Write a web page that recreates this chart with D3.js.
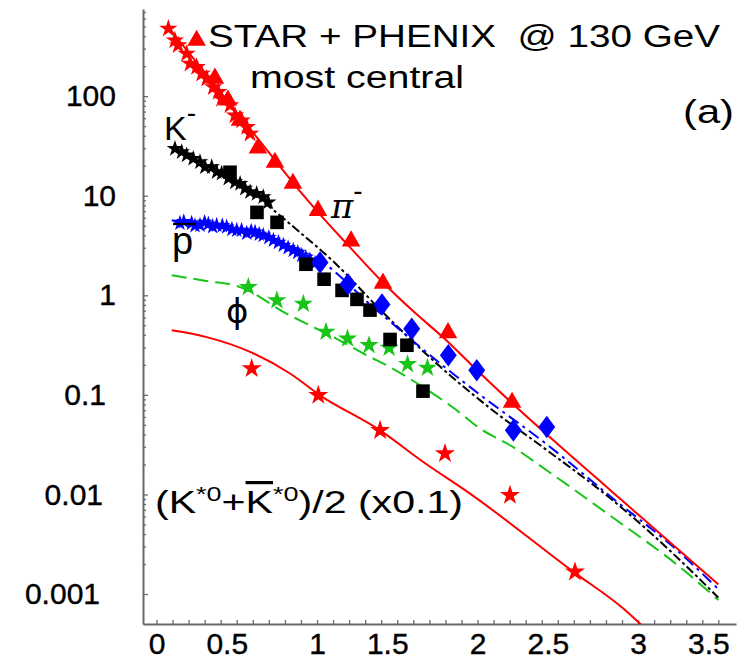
<!DOCTYPE html>
<html>
<head>
<meta charset="utf-8">
<script src="https://cdn.jsdelivr.net/npm/d3@7"></script>
<style>
  html, body { margin: 0; padding: 0; background: #fff; }
  svg { display: block; font-family: "Liberation Sans", Arial, Helvetica, sans-serif; }
</style>
</head>
<body>
<svg id="chart" width="738" height="659"></svg>
<script>
// ---- Measured spectra (pT in GeV/c, yield) ----
// pi- : STAR (stars) and PHENIX (triangles)
const piStarPt = [0.074, 0.115, 0.135, 0.188, 0.209, 0.25, 0.282, 0.313, 0.354, 0.385, 0.406, 0.458, 0.489, 0.531, 0.562, 0.583];
const piStarY  = [476, 363, 324, 267, 212, 196, 168, 150, 123, 110, 94, 81, 64, 57, 49, 42];
const piTriPt  = [0.25, 0.364, 0.445, 0.52, 0.632, 0.738, 0.85, 1.006, 1.212, 1.411, 1.816, 2.215];
const piTriY   = [363, 151, 91, 57, 30, 21.6, 13.3, 7.1, 3.5, 1.32, 0.42, 0.084];

// K- : STAR (stars) and PHENIX (squares)
const kStarPt = [0.115, 0.157, 0.188, 0.229, 0.271, 0.302, 0.344, 0.375, 0.406, 0.448, 0.489, 0.521, 0.551, 0.583, 0.624, 0.665, 0.696];
const kStarY  = [29.7, 27.5, 25.5, 23.6, 21.8, 19.4, 19.4, 17.3, 16.7, 14.9, 13.7, 13.2, 11.8, 10.9, 10.5, 9.7, 8.6];
const kSqPt   = [0.458, 0.626, 0.751, 0.931, 1.044, 1.156, 1.249, 1.33, 1.455, 1.56, 1.66];
const kSqY    = [17.2, 6.8, 5.4, 2.05, 1.45, 1.12, 0.91, 0.71, 0.36, 0.315, 0.109];

// anti-proton : STAR (stars) and PHENIX (diamonds)
const pbarStarPt = [0.146, 0.17, 0.219, 0.24, 0.271, 0.3, 0.323, 0.35, 0.375, 0.41, 0.437, 0.47, 0.5, 0.53, 0.562, 0.59, 0.614, 0.64, 0.665, 0.7, 0.728, 0.76, 0.79, 0.82, 0.852, 0.88, 0.905, 0.93, 0.956, 0.988];
const pbarStarY  = [5.3, 5.5, 5.3, 5.0, 5.05, 5.4, 5.2, 4.9, 5.05, 5.0, 4.85, 4.6, 4.5, 4.5, 4.2, 4.4, 4.3, 4.1, 4.0, 3.8, 3.57, 3.4, 3.18, 3.0, 2.83, 2.7, 2.52, 2.4, 2.25, 2.1];
const pbarDiaPt  = [1.019, 1.193, 1.405, 1.59, 1.818, 1.995, 2.223, 2.431];
const pbarDiaY   = [2.14, 1.29, 0.81, 0.46, 0.25, 0.177, 0.044, 0.0476];

// phi (STAR)
const phiPt = [0.572, 0.75, 0.915, 1.056, 1.19, 1.324, 1.449, 1.564, 1.688];
const phiY  = [1.21, 0.89, 0.82, 0.43, 0.367, 0.315, 0.297, 0.203, 0.187];

// (K*0 + anti-K*0)/2, scaled by 0.1 (STAR)
const kstarPt = [0.593, 1.008, 1.393, 1.797, 2.202, 2.607];
const kstarY  = [0.184, 0.099, 0.044, 0.0258, 0.0098, 0.00167];

// ---- Model curves ----
const piFitPt = [0.09, 0.3, 0.5, 0.7, 0.9, 1.0, 1.2, 1.4, 1.6, 1.8, 2.0, 2.2, 2.5, 2.75, 3.0, 3.25, 3.5];
const piFitY  = [458, 173, 68.8, 27.3, 10.8, 7.0, 3.1, 1.4, 0.69, 0.36, 0.175, 0.087, 0.032, 0.0142, 0.0063, 0.0028, 0.00125];
const kFitPt  = [0.1, 0.3, 0.5, 0.7, 0.9, 1.1, 1.4, 1.77, 2.08, 2.43, 2.84, 3.26, 3.5];
const kFitY   = [31, 21, 13.5, 7.8, 4.2, 2.2, 0.70, 0.19, 0.073, 0.028, 0.0088, 0.0022, 0.00092];
const pbarFitPt = [0.095, 0.3, 0.5, 0.8, 1.0, 1.35, 1.77, 2.02, 2.43, 2.84, 3.26, 3.5];
const pbarFitY  = [5.66, 5.2, 4.7, 3.3, 2.35, 0.76, 0.205, 0.099, 0.032, 0.0092, 0.0026, 0.00112];
const phiFitPt = [0.095, 0.3, 0.52, 0.81, 1.0, 1.14, 1.31, 1.455, 1.66, 1.87, 2.015, 2.22, 2.43, 2.84, 3.26, 3.5];
const phiFitY  = [1.59, 1.40, 1.21, 0.655, 0.46, 0.353, 0.25, 0.19, 0.12, 0.07, 0.046, 0.030, 0.0175, 0.0059, 0.00187, 0.00087];
const kstarFitPt = [0.095, 0.313, 0.583, 0.832, 1.019, 1.393, 1.662, 1.953, 2.597, 2.908, 3.02];
const kstarFitY  = [0.445, 0.38, 0.27, 0.164, 0.099, 0.044, 0.0212, 0.0102, 0.00167, 0.000714, 0.00049];

// ---- Axis ticks ----
const xTickValues = [0, 0.5, 1, 1.5, 2, 2.5, 3, 3.5];
const xTickLabels = ["0", "0.5", "1", "1.5", "2", "2.5", "3", "3.5"];
const yTickValues = [0.001, 0.01, 0.1, 1, 10, 100];
const yTickLabels = ["0.001", "0.01", "0.1", "1", "10", "100"];

const svg = d3.select("#chart");
const x = d3.scaleLinear().domain([-0.084, 3.61]).range([143, 736]);
const y = d3.scaleLog().domain([5e-4, 750]).range([624, 9]);

const RED = "#ff0000", BLUE = "#0000ff", GREEN = "#19c419", BLACK = "#000000";
const AXIS = "#6a6a6a";
const zip = (a, b) => a.map((v, i) => [v, b[i]]);

// clip region = plot frame
svg.append("defs").append("clipPath").attr("id", "frame")
  .append("rect").attr("x", x.range()[0]).attr("y", y.range()[1])
  .attr("width", x.range()[1] - x.range()[0]).attr("height", y.range()[0] - y.range()[1]);

// ---- Axes ----
const labelFor = (vals, labels, d) => {
  const k = vals.findIndex(v => Math.abs(v - d) <= 1e-6 * Math.max(1, Math.abs(v)));
  return k >= 0 ? labels[k] : "";
};
const xMinor = d3.range(0, 36).map(i => i / 10);
const xAxis = d3.axisBottom(x).tickValues(xMinor).tickSizeInner(-4).tickSizeOuter(0).tickPadding(9)
  .tickFormat(d => labelFor(xTickValues, xTickLabels, d));
const gx = svg.append("g").attr("transform", `translate(0,${y.range()[0]})`).call(xAxis);
// labels with a decimal point sit a little left of their tick
gx.selectAll(".tick text").attr("dx", function () { return this.textContent.includes(".") ? -10 : 0; });

const yMinor = [];
for (let e = -3; e <= 2; e++) for (let m = 1; m <= 9; m++) {
  const v = m * Math.pow(10, e);
  if (v <= 700 * 1.0001) yMinor.push(v);
}
const yAxis = d3.axisLeft(y).tickValues(yMinor).tickSizeOuter(0).tickSizeInner(-3).tickPadding(27)
  .tickFormat(d => labelFor(yTickValues, yTickLabels, d));
const gy = svg.append("g").attr("transform", `translate(${x.range()[0]},0)`).call(yAxis);
gy.selectAll(".tick line").attr("x2", d => labelFor(yTickValues, yTickLabels, d) ? 5 : 3);
gy.selectAll(".tick text").attr("dx", function () {
  const t = this.textContent;
  return t.includes(".") ? -(10 + 3 * (t.length - 3)) : 0;
});

[gx, gy].forEach(g => {
  g.select(".domain").attr("stroke", AXIS).attr("stroke-width", 2);
  g.selectAll(".tick line").attr("stroke", AXIS).attr("stroke-width", 1.3);
  g.selectAll(".tick text").attr("fill", "#000").style("font-size", "30px")
    .style("font-family", '"Liberation Sans", Arial, sans-serif')
    .attr("stroke", "#000").attr("stroke-width", 0.4);
});

// ---- Curves ----
const line = d3.line().x(d => x(d[0])).y(d => y(d[1])).curve(d3.curveMonotoneX);
const curves = svg.append("g").attr("clip-path", "url(#frame)").attr("fill", "none");
const drawCurve = (pts, vals, color, dash, w) =>
  curves.append("path").attr("d", line(zip(pts, vals))).attr("stroke", color)
    .attr("stroke-width", w).attr("stroke-dasharray", dash);

drawCurve(phiFitPt, phiFitY, GREEN, "15,7", 2);
drawCurve(kFitPt, kFitY, BLACK, "9,3,3,3", 2);
drawCurve(pbarFitPt, pbarFitY, BLUE, "12,5,3,5", 2);
drawCurve(kstarFitPt, kstarFitY, RED, null, 2);
drawCurve(piFitPt, piFitY, RED, null, 2);

// ---- Markers ----
const diamondTall = {
  draw(ctx, size) {
    const h = Math.sqrt(size / 1.5), w = h * 0.75;
    ctx.moveTo(0, -h); ctx.lineTo(w, 0); ctx.lineTo(0, h); ctx.lineTo(-w, 0); ctx.closePath();
  }
};
const marks = svg.append("g").attr("clip-path", "url(#frame)");
const drawMarks = (pts, vals, type, size, color) =>
  marks.append("g").selectAll("path").data(zip(pts, vals)).join("path")
    .attr("transform", d => `translate(${x(d[0])},${y(d[1])})`)
    .attr("d", d3.symbol().type(type).size(size)).attr("fill", color);

drawMarks(kstarPt, kstarY, d3.symbolStar, 125, RED);
drawMarks(phiPt, phiY, d3.symbolStar, 115, GREEN);
drawMarks(pbarStarPt, pbarStarY, d3.symbolStar, 80, BLUE);
drawMarks(kStarPt, kStarY, d3.symbolStar, 85, BLACK);
drawMarks(kSqPt, kSqY, d3.symbolSquare, 185, BLACK);
drawMarks(pbarDiaPt, pbarDiaY, diamondTall, 190, BLUE);
drawMarks(piStarPt, piStarY, d3.symbolStar, 105, RED);
drawMarks(piTriPt, piTriY, d3.symbolTriangle, 150, RED);

// ---- Text ----
const txt = (xp, yp, size, anchor) => svg.append("text").attr("x", xp).attr("y", yp)
  .attr("text-anchor", anchor || "start").style("font-size", size + "px").attr("fill", "#000");
const stretch = (sel, len) => sel.attr("textLength", len).attr("lengthAdjust", "spacingAndGlyphs");

stretch(txt(208, 47, 31).style("white-space", "pre").text("STAR + PHENIX  @ 130 GeV"), 512);
stretch(txt(250, 88, 31).text("most central"), 214);
stretch(txt(683, 123, 34).text("(a)"), 51);

// species labels
const kl = txt(164, 140, 34); kl.append("tspan").text("K");
kl.append("tspan").attr("dy", -18).style("font-size", "28px").text("-");

const pl = txt(331, 218, 34); pl.append("tspan").style("font-family", '"DejaVu Serif", serif').style("font-style", "italic").text("π");
pl.append("tspan").attr("dy", -18).style("font-size", "28px").text("-");

txt(172, 254, 38).text("p");
svg.append("line").attr("x1", 173).attr("x2", 196).attr("y1", 224).attr("y2", 224)
  .attr("stroke", "#000").attr("stroke-width", 2.2);

txt(226, 323, 34).style("font-family", '"DejaVu Sans", sans-serif').text("ϕ");

const ks = stretch(txt(155, 513, 32), 308);
ks.append("tspan").text("(K");
ks.append("tspan").attr("dy", -12).style("font-size", "21px").text("*0");
ks.append("tspan").attr("dy", 12).text("+");
ks.append("tspan").style("text-decoration", "overline").text("K");
ks.append("tspan").attr("dy", -12).style("font-size", "21px").text("*0");
ks.append("tspan").attr("dy", 12).text(")/2 (x0.1)");
</script>
</body>
</html>
